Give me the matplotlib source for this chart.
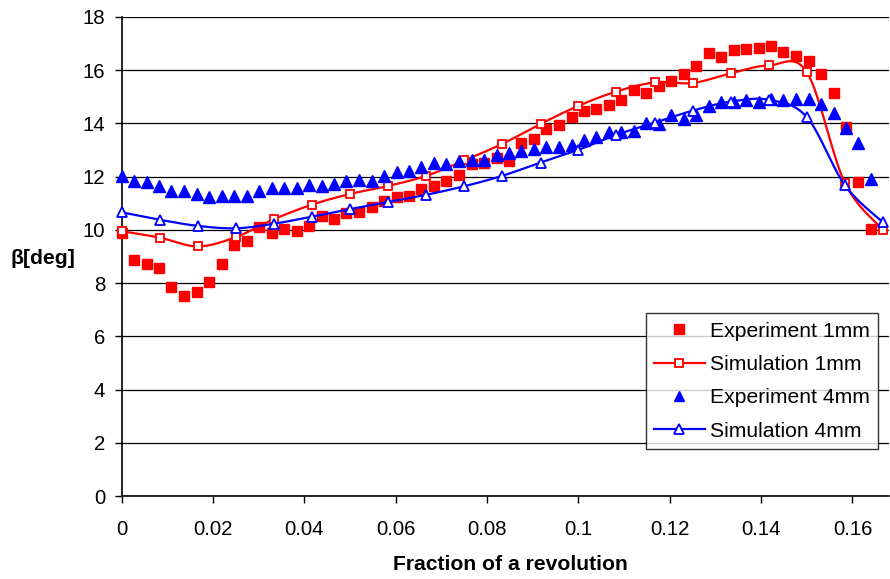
import numpy as np
import matplotlib
matplotlib.use("Agg")
import matplotlib.pyplot as plt
from matplotlib.lines import Line2D

plt.rcParams['font.family'] = ['Liberation Sans', 'DejaVu Sans']

# --- data ---
exp_x = [0.0000, 0.0027, 0.0055, 0.0082, 0.0109, 0.0137, 0.0164, 0.0191, 0.0219, 0.0246,
         0.0274, 0.0301, 0.0328, 0.0356, 0.0383, 0.0410, 0.0438, 0.0465, 0.0492, 0.0520,
         0.0547, 0.0574, 0.0602, 0.0629, 0.0656, 0.0684, 0.0711, 0.0738, 0.0766, 0.0793,
         0.0821, 0.0848, 0.0875, 0.0903, 0.0930, 0.0957, 0.0985, 0.1012, 0.1039, 0.1067,
         0.1094, 0.1121, 0.1149, 0.1176, 0.1203, 0.1231, 0.1258, 0.1285, 0.1313, 0.1340,
         0.1367, 0.1395, 0.1422, 0.1449, 0.1477, 0.1504, 0.1531, 0.1559, 0.1586, 0.1613,
         0.1641]

exp_1mm = [9.88, 8.87, 8.71, 8.58, 7.87, 7.52, 7.68, 8.06, 8.73, 9.44,
           9.60, 10.12, 9.88, 10.04, 9.97, 10.15, 10.53, 10.40, 10.65, 10.69,
           10.86, 11.07, 11.23, 11.28, 11.53, 11.65, 11.85, 12.07, 12.47, 12.53,
           12.70, 12.59, 13.28, 13.41, 13.79, 13.95, 14.26, 14.45, 14.54, 14.70,
           14.89, 15.26, 15.16, 15.41, 15.60, 15.86, 16.17, 16.63, 16.50, 16.77,
           16.79, 16.83, 16.92, 16.70, 16.52, 16.35, 15.86, 15.16, 13.86, 11.79,
           10.03]

exp_4mm = [12.01, 11.83, 11.79, 11.65, 11.48, 11.45, 11.35, 11.23, 11.26, 11.26,
           11.28, 11.45, 11.57, 11.57, 11.57, 11.70, 11.65, 11.73, 11.84, 11.88,
           11.84, 12.01, 12.16, 12.20, 12.36, 12.52, 12.48, 12.59, 12.61, 12.61,
           12.82, 12.88, 12.98, 13.03, 13.13, 13.13, 13.20, 13.38, 13.48, 13.66,
           13.66, 13.73, 14.03, 13.98, 14.32, 14.16, 14.32, 14.66, 14.79, 14.80,
           14.89, 14.82, 14.91, 14.89, 14.92, 14.92, 14.72, 14.41, 13.82, 13.26,
           11.91]

sim_x = [0.0000, 0.0083, 0.0167, 0.0250, 0.0333, 0.0417, 0.0500, 0.0583, 0.0667, 0.0750,
         0.0833, 0.0917, 0.1000, 0.1083, 0.1167, 0.1250, 0.1333, 0.1417, 0.1500, 0.1583,
         0.1667]

sim_1mm = [9.95, 9.71, 9.38, 9.73, 10.40, 10.95, 11.35, 11.65, 12.03, 12.61,
           13.23, 13.98, 14.66, 15.20, 15.54, 15.52, 15.88, 16.18, 15.93, 11.78,
           10.00]

sim_4mm = [10.66, 10.38, 10.15, 10.06, 10.23, 10.50, 10.78, 11.05, 11.32, 11.64,
           12.03, 12.53, 13.01, 13.57, 14.03, 14.48, 14.82, 14.89, 14.24, 11.69,
           10.28]

x_ticks = [0, 0.02, 0.04, 0.06, 0.08, 0.1, 0.12, 0.14, 0.16]
x_tick_labels = ['0', '0.02', '0.04', '0.06', '0.08', '0.1', '0.12', '0.14', '0.16']
y_ticks = [0, 2, 4, 6, 8, 10, 12, 14, 16, 18]

RED = '#FF0000'
BLUE = '#0000FF'
TICK_FS = 14.7
LABEL_FS = 15.2


def smooth(xs, ys, n=30):
    """Excel-style smoothed line (Catmull-Rom as cubic Bezier)"""
    p = np.column_stack([xs, ys])
    p = np.vstack([p[0], p, p[-1]])
    out = []
    t = np.linspace(0, 1, n)[:, None]
    for i in range(1, len(p) - 2):
        p0, p3 = p[i], p[i + 1]
        c1 = p0 + (p[i + 1] - p[i - 1]) / 6
        c2 = p3 - (p[i + 2] - p[i]) / 6
        seg = ((1 - t) ** 3) * p0 + 3 * ((1 - t) ** 2) * t * c1 + 3 * (1 - t) * t ** 2 * c2 + t ** 3 * p3
        out.append(seg if i == 1 else seg[1:])
    out = np.vstack(out)
    return out[:, 0], out[:, 1]


fig = plt.figure(figsize=(8.9, 5.79), dpi=100)
ax = fig.add_axes([121.7 / 890, 1 - 496 / 579, (889 - 121.7) / 890, (496 - 17) / 579])

# series in Excel order: Exp 1mm, Sim 1mm, Exp 4mm, Sim 4mm
ax.plot(exp_x, exp_1mm, ls='none', marker='s', ms=7.2, color=RED, mec=RED, clip_on=False, zorder=3)

sx, sy = smooth(sim_x, sim_1mm)
ax.plot(sx, sy, color=RED, lw=1.6, clip_on=False, zorder=4)
ax.plot(sim_x, sim_1mm, ls='none', marker='s', ms=5.8, mfc='white', mec=RED, mew=1.3,
        clip_on=False, zorder=4)

ax.plot(exp_x, exp_4mm, ls='none', marker='^', ms=8.5, color=BLUE, mec=BLUE, clip_on=False, zorder=5)

sx, sy = smooth(sim_x, sim_4mm)
ax.plot(sx, sy, color=BLUE, lw=1.6, clip_on=False, zorder=6)
ax.plot(sim_x, sim_4mm, ls='none', marker='^', ms=6.5, mfc='white', mec=BLUE, mew=1.3,
        clip_on=False, zorder=6)

ax.set_xlim(0, 0.168)
ax.set_ylim(0, 18)
ax.set_xticks(x_ticks)
ax.set_xticklabels(x_tick_labels)
ax.set_yticks(y_ticks)
ax.tick_params(axis='both', labelsize=TICK_FS, direction='out', length=5, width=1, colors='black')
ax.tick_params(axis='x', pad=12)
ax.tick_params(axis='y', pad=7)

ax.spines['top'].set_visible(False)
ax.spines['right'].set_visible(False)
ax.spines['left'].set_linewidth(1.2)
ax.spines['bottom'].set_linewidth(1.2)
ax.yaxis.grid(True, color='black', lw=0.9)
ax.set_axisbelow(True)

handles = [
    Line2D([], [], ls='none', marker='s', ms=6.5, color=RED),
    Line2D([], [], color=RED, lw=1.6, marker='s', ms=5.8, mfc='white', mec=RED, mew=1.3),
    Line2D([], [], ls='none', marker='^', ms=7.5, color=BLUE),
    Line2D([], [], color=BLUE, lw=1.6, marker='^', ms=6.5, mfc='white', mec=BLUE, mew=1.3),
]
labels = ['Experiment 1mm', 'Simulation 1mm', 'Experiment 4mm', 'Simulation 4mm']
leg = ax.legend(handles, labels, loc='lower right', bbox_to_anchor=(0.986, 0.098),
                fontsize=LABEL_FS, frameon=True, fancybox=False, edgecolor='black',
                handlelength=2.4, handletextpad=0.25, labelspacing=0.68,
                borderpad=0.4, borderaxespad=0)
leg.get_frame().set_linewidth(1.0)
leg.set_zorder(10)

fig.text(43 / 890, 1 - 258 / 579, 'β[deg]', fontsize=LABEL_FS, fontweight='bold', ha='center', va='center')
fig.text(510 / 890, 1 - 565 / 579, 'Fraction of a revolution', fontsize=LABEL_FS, fontweight='bold',
         ha='center', va='center')

fig.savefig('out.png', dpi=100)
